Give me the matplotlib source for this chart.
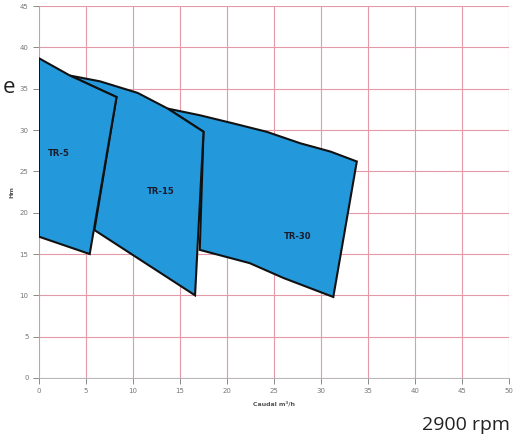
import matplotlib
matplotlib.use("Agg")
import matplotlib.pyplot as plt
from matplotlib.patches import Polygon

# working fields of each pump (flow m3/h, head m)
tr5_q = [0.0, 3.3, 8.25, 5.4, 0.0]
tr5_h = [38.7, 36.6, 34.0, 15.0, 17.1]

tr15_q = [3.3, 6.5, 10.5, 13.7, 17.5, 16.6, 5.9, 8.25]
tr15_h = [36.6, 35.9, 34.5, 32.6, 29.8, 10.0, 17.9, 34.0]

tr30_q = [13.7, 17.1, 20.7, 24.2, 27.8, 31.0, 33.8, 31.3, 26.0, 22.4, 17.1, 17.5]
tr30_h = [32.6, 31.8, 30.8, 29.8, 28.4, 27.4, 26.2, 9.8, 12.1, 13.9, 15.5, 29.8]

names = ["TR-30", "TR-15", "TR-5"]
label_q = [26.0, 11.5, 1.0]
label_h = [16.8, 22.3, 26.9]

x_ticks = list(range(0, 51, 5))
y_ticks = list(range(0, 46, 5))

fig = plt.figure(figsize=(5.26, 4.41), dpi=100)
ax = fig.add_axes([0.074, 0.143, 0.894, 0.843])

fill = "#2398da"
for q, h in [(tr30_q, tr30_h), (tr15_q, tr15_h), (tr5_q, tr5_h)]:
    ax.add_patch(Polygon(list(zip(q, h)), closed=True, facecolor=fill,
                         edgecolor="#111111", linewidth=1.5, zorder=3))

for n, q, h in zip(names, label_q, label_h):
    ax.text(q, h, n, fontsize=6, fontweight="bold", color="#1a1a2a", zorder=4)

ax.set_xlim(0, 50)
ax.set_ylim(0, 45)
ax.set_xticks(x_ticks)
ax.set_yticks(y_ticks)
ax.grid(True, color="#e39aa6", linewidth=0.8, zorder=0)
ax.tick_params(labelsize=5, colors="#777777", length=4, width=0.6)
for s in ["top", "right"]:
    ax.spines[s].set_visible(False)
for s in ["left", "bottom"]:
    ax.spines[s].set_color("#aaaaaa")
    ax.spines[s].set_linewidth(0.6)

ax.set_ylabel("Hm", fontsize=4.5, fontweight="bold", color="#555555", labelpad=4)
ax.set_xlabel("Caudal m³/h", fontsize=4.5, fontweight="bold", color="#555555", labelpad=5)

fig.text(0.005, 0.79, "e", fontsize=16, family="Open Sans", color="#222222")
fig.text(0.97, 0.025, "2900 rpm", fontsize=14, family="Open Sans",
         color="#222222", ha="right")

plt.savefig("out.png", dpi=100)
